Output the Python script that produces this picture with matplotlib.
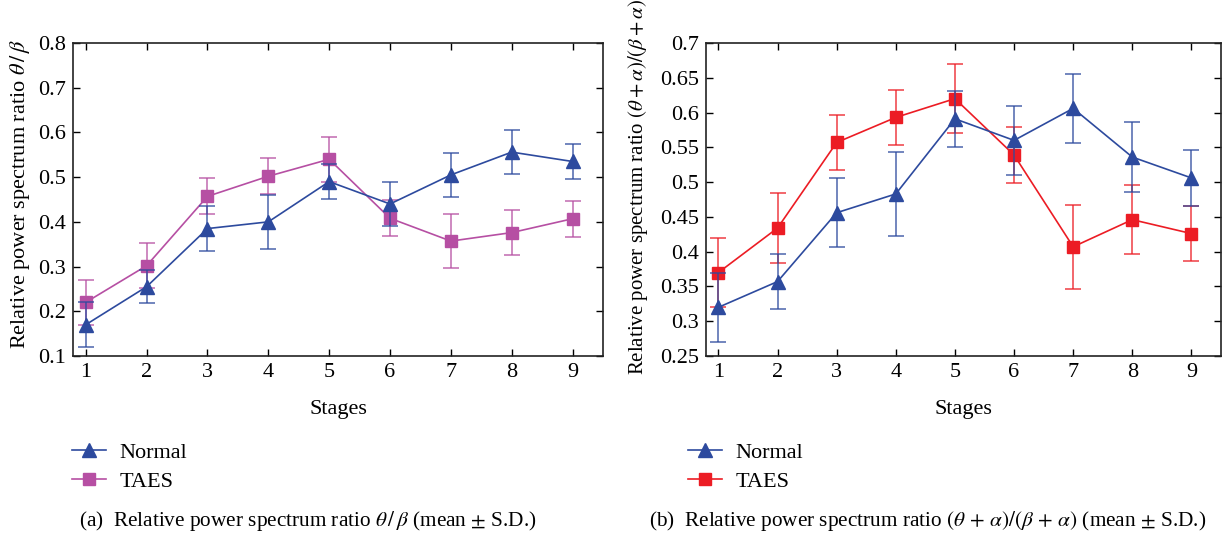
import matplotlib
matplotlib.use("Agg")
import matplotlib.pyplot as plt
from matplotlib.lines import Line2D

plt.rcParams['font.family'] = ['Liberation Serif', 'DejaVu Serif']
plt.rcParams['mathtext.fontset'] = 'stix'

stages = [1, 2, 3, 4, 5, 6, 7, 8, 9]

# Panel (a): theta/beta
a_normal = [0.17, 0.255, 0.385, 0.40, 0.49, 0.44, 0.505, 0.556, 0.535]
a_normal_sd = [0.05, 0.037, 0.05, 0.06, 0.04, 0.05, 0.05, 0.05, 0.04]
a_taes = [0.22, 0.302, 0.457, 0.502, 0.54, 0.408, 0.357, 0.376, 0.407]
a_taes_sd = [0.05, 0.05, 0.04, 0.04, 0.05, 0.04, 0.06, 0.05, 0.04]

# Panel (b): (theta+alpha)/(beta+alpha)
b_normal = [0.32, 0.357, 0.456, 0.483, 0.591, 0.560, 0.606, 0.536, 0.506]
b_normal_sd = [0.05, 0.04, 0.05, 0.06, 0.04, 0.05, 0.05, 0.05, 0.04]
b_taes = [0.370, 0.434, 0.557, 0.593, 0.620, 0.539, 0.407, 0.446, 0.426]
b_taes_sd = [0.05, 0.05, 0.04, 0.04, 0.05, 0.04, 0.06, 0.05, 0.04]

a_yticks = [0.1, 0.2, 0.3, 0.4, 0.5, 0.6, 0.7, 0.8]
a_yticklabels = ['0.1', '0.2', '0.3', '0.4', '0.5', '0.6', '0.7', '0.8']
b_yticks = [0.25, 0.3, 0.35, 0.4, 0.45, 0.5, 0.55, 0.6, 0.65, 0.7]
b_yticklabels = ['0.25', '0.3', '0.35', '0.4', '0.45', '0.5', '0.55', '0.6', '0.65', '0.7']

BLUE = '#2D4A9E'
MAGENTA = '#B64FA3'
RED = '#EC1C24'

FS = 16

W, H = 1224, 537
fig = plt.figure(figsize=(W / 100, H / 100), dpi=100)

def box(x0, y0, x1, y1):
    return [x0 / W, 1 - y1 / H, (x1 - x0) / W, (y1 - y0) / H]

ax1 = fig.add_axes(box(73, 43, 603, 356))
ax2 = fig.add_axes(box(706, 43, 1221, 356))

def draw(ax, normal, nsd, taes, tsd, tcolor, ylim, yticks, yticklabels, ylabel, ylfs):
    for vals, sd, col, mk, ms, z in ((taes, tsd, tcolor, 's', 8, 2),
                                     (normal, nsd, BLUE, '^', 9.5, 3)):
        eb = ax.errorbar(stages, vals, yerr=sd, color=col, marker=mk, markersize=ms,
                         linewidth=1.2, capsize=5.5, capthick=1.1, elinewidth=1.1,
                         ecolor=col, zorder=z)
        for c in eb[1]:
            c.set_alpha(0.85)
        for c in eb[2]:
            c.set_alpha(0.85)
    ax.set_xlim(0.79, 9.5)
    ax.set_ylim(*ylim)
    ax.set_xticks(stages)
    ax.set_xticklabels([str(s) for s in stages])
    ax.set_yticks(yticks)
    ax.set_yticklabels(yticklabels)
    ax.tick_params(direction='in', top=True, right=True, length=5, width=1,
                   labelsize=FS, pad=5)
    for s in ax.spines.values():
        s.set_linewidth(1.2)
        s.set_color('#222222')
    ax.set_xlabel('Stages', fontsize=FS, labelpad=13)
    ax.set_ylabel(ylabel, fontsize=ylfs)

draw(ax1, a_normal, a_normal_sd, a_taes, a_taes_sd, MAGENTA, (0.1, 0.8),
     a_yticks, a_yticklabels, r'Relative power spectrum ratio $\theta\,/\,\beta$', FS)
draw(ax2, b_normal, b_normal_sd, b_taes, b_taes_sd, RED, (0.25, 0.7),
     b_yticks, b_yticklabels,
     r'Relative power spectrum ratio $(\theta + \alpha)/(\beta + \alpha)$', 15)
ax1.yaxis.set_label_coords(-0.078, 0.518)
ax2.yaxis.set_label_coords(-0.108, 0.54)

def legend(x, color):
    h = [Line2D([], [], color=BLUE, marker='^', markersize=9.5, linewidth=1.2),
         Line2D([], [], color=color, marker='s', markersize=8, linewidth=1.2)]
    fig.legend(h, ['Normal', 'TAES'], loc='upper left',
               bbox_to_anchor=(x / W, 1 - 442 / H), frameon=False,
               fontsize=FS, handlelength=1.55, handletextpad=0.6,
               labelspacing=0.4, borderpad=0, borderaxespad=0)

legend(72, MAGENTA)
legend(688, RED)

fig.text(308 / W, 1 - 521 / H,
         r'(a)  Relative power spectrum ratio $\theta\,/\,\beta$ (mean $\pm$ S.D.)',
         ha='center', va='center', fontsize=15.3)
fig.text(928 / W, 1 - 521 / H,
         r'(b)  Relative power spectrum ratio $(\theta\,+\,\alpha)/(\beta\,+\,\alpha)$ (mean $\pm$ S.D.)',
         ha='center', va='center', fontsize=15.3)

fig.savefig('out.png', dpi=100)
